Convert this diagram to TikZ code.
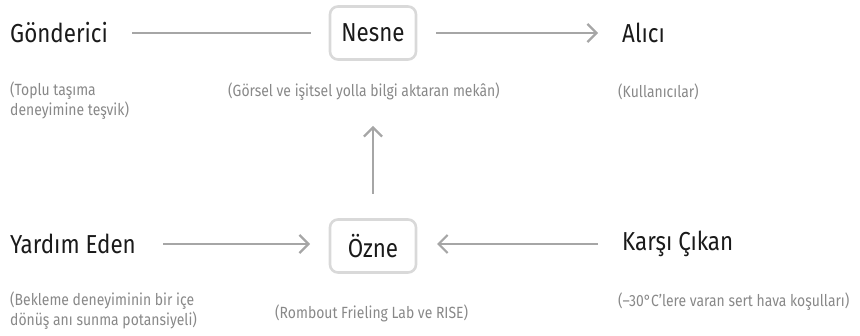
\documentclass[tikz,border=0pt]{standalone}
\usepackage{fontspec}
\setmainfont{Fira Sans}[FakeStretch=0.86]
\usetikzlibrary{arrows.meta}
\definecolor{titleink}{HTML}{1A1A1A}
\definecolor{noteink}{HTML}{888888}
\definecolor{wire}{HTML}{A6A6A6}
\definecolor{frame}{HTML}{D9D9D9}
\tikzset{
  x=1pt, y=-1pt,
  role/.style={anchor=west, inner sep=0pt, text=titleink, font=\fontsize{26}{30}\selectfont},
  core/.style={draw=frame, line width=2.6pt, rounded corners=8pt, minimum width=86pt,
    minimum height=53pt, inner sep=0pt, text=titleink, font=\fontsize{26}{30}\selectfont},
  note/.style={anchor=west, inner sep=0pt, text=noteink, align=left,
    font=\fontsize{16.2}{20}\selectfont},
  link/.style={draw=wire, line width=2.2pt},
  flow/.style={link, -{Straight Barb[length=9pt, width=18pt, line width=2.2pt]}},
}
\begin{document}
\begin{tikzpicture}
\useasboundingbox (0,0) rectangle (860,336);

% upper row
\node[role] (sender) at (10,33) {Gönderici};
\node[core] (object) at (373,33) {Nesne};
\node[role] (receiver) at (622,33) {Alıcı};
\coordinate (senderEnd) at (132,33);
\coordinate (objectIn) at (311,33);
\coordinate (objectOut) at (436,33);
\coordinate (receiverIn) at (598,33);
\draw[link] (senderEnd) -- (objectIn);
\draw[flow] (objectOut) -- (receiverIn);

\node[note, anchor=north west] (senderNote) at (10,82) {(Toplu taşıma\\deneyimine teşvik)};
\node[note] (objectNote) at (228,92) {(Görsel ve işitsel yolla bilgi aktaran mekân)};
\node[note] (receiverNote) at (618,92) {(Kullanıcılar)};

% lower row
\node[role] (helper) at (10,244) {Yardım Eden};
\node[core] (subject) at (373,246) {Özne};
\node[role] (opponent) at (622,244) {Karşı Çıkan};
\coordinate (helperEnd) at (163,244);
\coordinate (subjectLeft) at (310,244);
\coordinate (subjectRight) at (437,244);
\coordinate (opponentEnd) at (598,244);
\coordinate (subjectTop) at (373,194);
\coordinate (objectBelow) at (373,126);
\draw[flow] (helperEnd) -- (subjectLeft);
\draw[flow] (opponentEnd) -- (subjectRight);
\draw[flow] (subjectTop) -- (objectBelow);

\node[note, anchor=north west] (helperNote) at (10,292) {(Bekleme deneyiminin bir içe\\dönüş anı sunma potansiyeli)};
\node[note] (subjectNote) at (275,313) {(Rombout Frieling Lab ve RISE)};
\node[note] (opponentNote) at (618,302) {(–30°C’lere varan sert hava koşulları)};
\end{tikzpicture}
\end{document}
